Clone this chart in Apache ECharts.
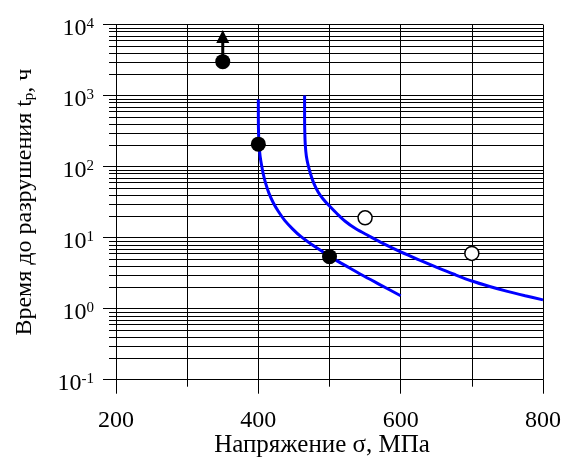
<!DOCTYPE html>
<html><head><meta charset="utf-8">
<script src="https://cdn.jsdelivr.net/npm/echarts@6/dist/echarts.min.js"></script>
<style>html,body{margin:0;padding:0;background:#fff}#c{width:563px;height:459px}</style>
</head><body><div id="c"></div>
<script>
// Curve 1 (lower-left)
const curveA_x = [400, 400, 400.3, 401, 402.5, 404.5, 407, 410.5, 415, 421, 428, 437, 448, 460, 475, 490, 505, 525, 545, 570, 600];
const curveA_y = [880, 500, 300, 200, 140, 105, 78, 57, 42, 31, 23.5, 17.5, 13.3, 10.3, 8.0, 6.4, 5.1, 3.9, 3.0, 2.2, 1.52];
// Curve 2 (upper-right)
const curveB_x = [465, 465, 465.3, 466, 467.5, 470, 473.5, 478, 484, 491, 499, 510, 522, 537, 555, 575, 600, 625, 650, 675, 700, 725, 750, 775, 800];
const curveB_y = [1000, 500, 300, 200, 140, 105, 78, 58, 44, 35, 28.5, 22, 17, 13.3, 10.6, 8.3, 6.3, 4.9, 3.85, 3.05, 2.45, 2.05, 1.75, 1.52, 1.33];
// Filled points
const filledX = [350, 400, 500];
const filledY = [3000, 207, 5.4];
// Open points
const openX = [550, 700];
const openY = [19, 6];
// Arrow (run-out) on the 350 MPa point
const arrowX = [350, 350];
const arrowY = [3000, 5600];
const arrowHeadX = [350];
const arrowHeadY = [6800];
// Axis ticks
const xTicks = [200, 400, 600, 800];
const yDecades = [0.1, 1, 10, 100, 1000];
const yMantissas = [2, 3, 4, 5, 6, 7, 8, 9];

const FONT = "'Liberation Serif','Times New Roman',serif";
const zip = (a, b) => a.map((v, i) => [v, b[i]]);
const minorY = [];
yDecades.forEach(d => yMantissas.forEach(m => minorY.push([200, +(m * d).toPrecision(3)])));

const chart = echarts.init(document.getElementById('c'), null, {renderer: 'canvas'});
chart.setOption({
  animation: false,
  backgroundColor: '#fff',
  grid: {left: 116, right: 20, top: 24.5, bottom: 79.3, containLabel: false, outerBoundsMode: 'none'},
  xAxis: {
    type: 'value', min: xTicks[0], max: xTicks[xTicks.length - 1], interval: 200,
    name: 'Напряжение σ, МПа', nameLocation: 'middle', nameGap: 53, nameMoveOverlap: false,
    nameTextStyle: {fontFamily: FONT, fontSize: 25, color: '#000', padding: [0, 15, 0, 0]},
    axisLine: {onZero: false, lineStyle: {color: '#000', width: 1}},
    axisTick: {show: true, length: 14, inside: false, lineStyle: {color: '#000'}},
    minorTick: {show: true, splitNumber: 2, length: 7, lineStyle: {color: '#000'}},
    splitLine: {show: true, lineStyle: {color: '#000', width: 1}},
    minorSplitLine: {show: true, lineStyle: {color: '#000', width: 1}},
    axisLabel: {fontFamily: FONT, fontSize: 24, color: '#000', margin: 29}
  },
  yAxis: {
    type: 'log', logBase: 10, min: 0.1, max: 10000,
    name: 'Время до разрушения t{sub|р}, ч', nameLocation: 'middle', nameGap: 79, nameMoveOverlap: false,
    nameTextStyle: {fontFamily: FONT, fontSize: 24, color: '#000',
      rich: {sub: {fontFamily: FONT, fontSize: 15, color: '#000', padding: [10, 0, 0, 0]}}},
    axisLine: {show: true, onZero: false, lineStyle: {color: '#000', width: 1}},
    axisTick: {show: true, length: 13, inside: false, lineStyle: {color: '#000'}},
    splitLine: {show: true, lineStyle: {color: '#000', width: 1}},
    axisLabel: {
      margin: 22, color: '#000', padding: [8, 0, 0, 0],
      formatter: v => '{b|10}{s|' + Math.round(Math.log10(v)) + '}',
      rich: {
        b: {fontFamily: FONT, fontSize: 24, color: '#000'},
        s: {fontFamily: FONT, fontSize: 15, color: '#000', padding: [0, 0, 9, 0]}
      }
    }
  },
  series: [
    {
      type: 'custom', clip: false, silent: true, z: 1,
      data: minorY, encode: {x: 0, y: 1},
      renderItem: (params, api) => {
        const v = api.value(1);
        const p1 = api.coord([xTicks[0], v]);
        const p2 = api.coord([xTicks[xTicks.length - 1], v]);
        const y = Math.round(p1[1]) + 0.5;
        return {type: 'line', shape: {x1: p1[0] - 7, y1: y, x2: p2[0], y2: y},
          style: {stroke: '#000', lineWidth: 1}};
      }
    },
    {type: 'line', data: zip(curveA_x, curveA_y), showSymbol: false, smooth: 0.3, z: 3,
      lineStyle: {color: '#0000ff', width: 3}},
    {type: 'line', data: zip(curveB_x, curveB_y), showSymbol: false, smooth: 0.3, z: 3,
      lineStyle: {color: '#0000ff', width: 3}},
    {type: 'line', data: zip(arrowX, arrowY), showSymbol: false, z: 4,
      lineStyle: {color: '#000', width: 3}},
    {type: 'scatter', data: zip(arrowHeadX, arrowHeadY), symbol: 'triangle', symbolSize: [13, 13], z: 5,
      itemStyle: {color: '#000', opacity: 1}},
    {type: 'scatter', data: zip(filledX, filledY), symbol: 'circle', symbolSize: 15, z: 5,
      itemStyle: {color: '#000', opacity: 1}},
    {type: 'scatter', data: zip(openX, openY), symbol: 'circle', symbolSize: 14, z: 5,
      itemStyle: {color: '#fff', borderColor: '#000', borderWidth: 1.5, opacity: 1}}
  ]
});
</script></body></html>
